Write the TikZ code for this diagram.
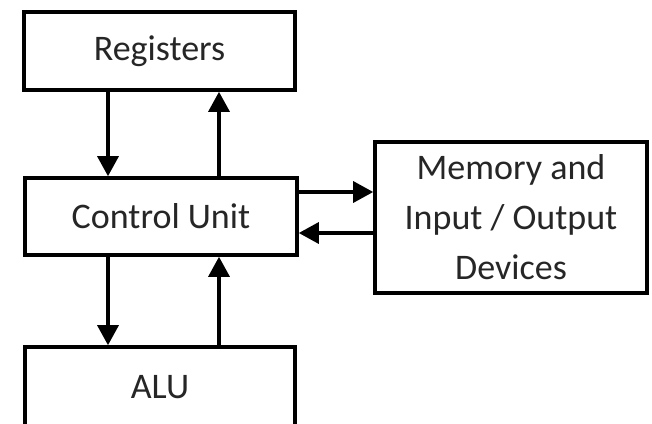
\documentclass[tikz,border=0pt]{standalone}
\usepackage{fontspec}
\setmainfont{Carlito}
\usetikzlibrary{arrows.meta}
\begin{document}
\begin{tikzpicture}[x=1pt,y=-1pt,
  block/.style={draw=black, line width=3.6pt, fill=white, inner sep=0pt,
    font=\fontsize{36}{50}\selectfont, text=black!85, align=center},
  flow/.style={line width=3.2pt, -{Triangle[width=21pt,length=20pt]}}]
\useasboundingbox (0,0) rectangle (652,423);
\clip (0,0) rectangle (652,423);
\fill[white] (0,0) rectangle (652,423);

% the four units
\node[block, minimum width=271pt, minimum height=78pt] (reg) at (159.5,51) {Registers};
\node[block, minimum width=272pt, minimum height=77pt] (cu) at (161,216.5) {Control Unit};
\node[block, minimum width=270pt, minimum height=80pt] (alu) at (160,387) {ALU};
\node[block, minimum width=272pt, minimum height=151pt] (mem) at (511,217.5)
  {Memory and\\Input / Output\\Devices};

% lanes of the connectors
\coordinate (down) at (108,0);
\coordinate (up) at (219,0);
\coordinate (out) at (0,192);
\coordinate (in) at (0,233);

\draw[flow] (reg.south -| down) -- (cu.north -| down);
\draw[flow] (cu.north -| up) -- (reg.south -| up);
\draw[flow] (cu.south -| down) -- (alu.north -| down);
\draw[flow] (alu.north -| up) -- (cu.south -| up);
\draw[flow] (cu.east |- out) -- (mem.west |- out);
\draw[flow] (mem.west |- in) -- (cu.east |- in);
\end{tikzpicture}
\end{document}
